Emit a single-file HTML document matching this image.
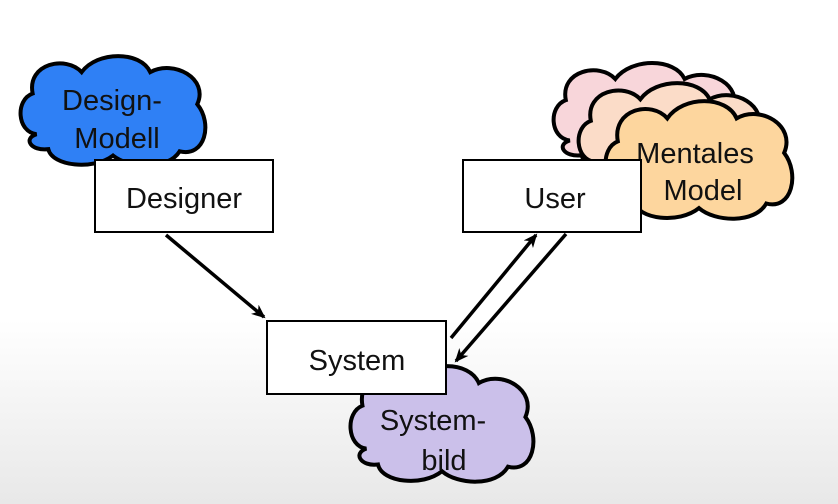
<!DOCTYPE html>
<html><head><style>
html,body{margin:0;padding:0;width:838px;height:504px;overflow:hidden}
body{background:linear-gradient(#fff 0,#fff 320px,#e8e8e8 504px)}
svg{position:absolute;left:0;top:0}
text{font-family:"Liberation Sans",sans-serif;font-size:29px;fill:#111;text-anchor:middle}
</style></head><body>
<svg width="838" height="504" viewBox="0 0 838 504">
<defs>
<path id="c" d="M22,74 C2,72 0,42 18,36 C12,8 52,0 68,16 C84,-4 128,-4 138,16 C162,4 198,22 186,46 C202,64 194,96 168,90 C156,108 116,106 100,94 C80,108 38,104 34,88 C16,90 8,78 22,74 Z" stroke="#000" stroke-width="4" vector-effect="non-scaling-stroke"/>
<marker id="a" markerWidth="14" markerHeight="12" refX="12" refY="6" orient="auto" markerUnits="userSpaceOnUse"><path d="M0,0 L14,6 L0,12 L4,6 Z" fill="#000"/></marker>
</defs>
<use href="#c" transform="translate(15,55) scale(0.98,1.07)" fill="#2f80f5"/>
<use href="#c" transform="translate(548,62) scale(0.99,1.06)" fill="#f8d6da"/>
<use href="#c" transform="translate(573,82) scale(0.99,1.08)" fill="#fbdcc8"/>
<use href="#c" transform="translate(600,100) scale(0.99,1.15)" fill="#fdd69e"/>
<use href="#c" transform="translate(345,365) scale(0.97,1.13)" fill="#cbc0ea"/>
<text x="112" y="110">Design-</text>
<text x="117" y="148">Modell</text>
<text x="695" y="163">Mentales</text>
<text x="703" y="200">Model</text>
<text x="433" y="430">System-</text>
<text x="444" y="470">bild</text>
<rect x="95" y="160" width="178" height="72" fill="#fff" stroke="#000" stroke-width="2"/>
<rect x="463" y="160" width="178" height="72" fill="#fff" stroke="#000" stroke-width="2"/>
<rect x="267" y="321" width="179" height="73" fill="#fff" stroke="#000" stroke-width="2"/>
<text x="184" y="208">Designer</text>
<text x="555" y="208">User</text>
<text x="357" y="370">System</text>
<line x1="166" y1="235" x2="264" y2="317" stroke="#000" stroke-width="3.5" marker-end="url(#a)"/>
<line x1="451" y1="338" x2="536" y2="235" stroke="#000" stroke-width="3.5" marker-end="url(#a)"/>
<line x1="566" y1="234" x2="456" y2="361" stroke="#000" stroke-width="3.5" marker-end="url(#a)"/>
</svg>
</body></html>
